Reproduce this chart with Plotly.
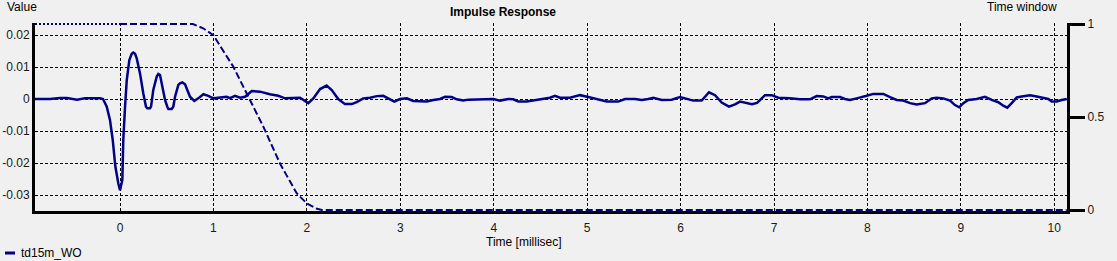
import plotly.graph_objects as go

# ---- data ----
time_ms = [-0.910, -0.749, -0.642, -0.567, -0.460, -0.375, -0.214, -0.182, -0.142, -0.107,
           -0.078, -0.050, -0.018, 0.000, 0.025, 0.035, 0.054, 0.072, 0.100, 0.125,
           0.142, 0.161, 0.179, 0.214, 0.249, 0.278, 0.292, 0.321, 0.332, 0.356,
           0.393, 0.410, 0.428, 0.446, 0.482, 0.506, 0.517, 0.553, 0.570, 0.589,
           0.624, 0.642, 0.667, 0.696, 0.714, 0.749, 0.795, 0.838, 0.892,
           0.945, 0.999, 1.070, 1.142, 1.177, 1.231, 1.284, 1.338, 1.410, 1.498,
           1.605, 1.694, 1.766, 1.855, 1.927, 2.015, 2.069, 2.141, 2.212, 2.266,
           2.336, 2.408, 2.480, 2.533, 2.604, 2.676, 2.748, 2.818, 2.890, 2.936,
           2.997, 3.069, 3.139, 3.211, 3.283, 3.353, 3.425, 3.479, 3.550, 3.604,
           3.674, 3.728, 3.853, 3.996, 4.067, 4.156, 4.210, 4.263, 4.353, 4.424,
           4.531, 4.602, 4.656, 4.709, 4.816, 4.923, 5.012, 5.102, 5.209, 5.333,
           5.405, 5.512, 5.584, 5.654, 5.708, 5.798, 5.905, 5.994, 6.047, 6.136,
           6.226, 6.261, 6.304, 6.369, 6.440, 6.518, 6.583, 6.636, 6.708, 6.764,
           6.818, 6.850, 6.904, 6.975, 7.046, 7.171, 7.278, 7.385, 7.457, 7.528,
           7.581, 7.618, 7.707, 7.760, 7.813, 7.885, 7.939, 7.992, 8.063, 8.170,
           8.242, 8.313, 8.384, 8.456, 8.527, 8.616, 8.688, 8.741, 8.812, 8.884,
           8.937, 8.983, 9.026, 9.079, 9.169, 9.223, 9.258, 9.330, 9.401, 9.454,
           9.497, 9.544, 9.598, 9.651, 9.740, 9.812, 9.882, 9.936, 9.972, 10.025,
           10.079, 10.133]
impulse_value = [0.0, 0.0, 0.0003, 0.0003, -0.0002, 0.0002, 0.0002, 0.0, -0.0024, -0.0066,
                 -0.0128, -0.0211, -0.0264, -0.0285, -0.0253, -0.0128, -0.0024, 0.0059, 0.0122, 0.0141,
                 0.0145, 0.0141, 0.0127, 0.0080, 0.0018, -0.0024, -0.0029, -0.0029, -0.0024, 0.0028,
                 0.0070, 0.0078, 0.0075, 0.0049, -0.0003, -0.0024, -0.0031, -0.0031, -0.0024, 0.0007,
                 0.0044, 0.0049, 0.0052, 0.0046, 0.0033, 0.0007, -0.0006, 0.0002, 0.0015,
                 0.0010, 0.0002, 0.0005, 0.0007, 0.0003, 0.0010, 0.0004, 0.0007, 0.0025, 0.0023,
                 0.0015, 0.0010, 0.0002, 0.0002, 0.0004, -0.0013, 0.0002, 0.0031, 0.0042, 0.0028,
                 0.0, -0.0016, -0.0016, -0.0010, 0.0002, 0.0004, 0.0009, 0.0010, 0.0, -0.0008,
                 0.0, 0.0002, -0.0006, -0.0008, -0.0008, -0.0003, 0.0, 0.0007, 0.0006, -0.0001,
                 -0.0005, -0.0002, 0.0, 0.0, -0.0005, 0.0, -0.0001, -0.0008, -0.0008, -0.0005,
                 -0.0001, 0.0004, 0.0010, 0.0004, 0.0004, 0.0012, 0.0006, 0.0, -0.0008, -0.0008,
                 0.0, 0.0, -0.0003, 0.0, 0.0004, -0.0003, -0.0002, 0.0006, 0.0002, -0.0005,
                 -0.0005, 0.0007, 0.0021, 0.0012, -0.0011, -0.0024, -0.0017, -0.0008, -0.0013, -0.0016,
                 -0.0012, -0.0003, 0.0012, 0.0012, 0.0004, 0.0002, -0.0001, -0.0001, 0.0009, 0.0008,
                 0.0002, 0.0006, 0.0006, 0.0, -0.0003, 0.0002, 0.0005, 0.0010, 0.0016, 0.0016,
                 0.0006, -0.0003, -0.0005, -0.0013, -0.0017, -0.0013, 0.0002, 0.0004, 0.0002, -0.0005,
                 -0.0019, -0.0026, -0.0013, -0.0003, 0.0, 0.0005, 0.0007, -0.0003, -0.0010, -0.0021,
                 -0.0027, -0.0013, 0.0005, 0.0008, 0.0012, 0.0008, 0.0004, 0.0, -0.0008, -0.0008,
                 -0.0003, 0.0]

window_pre_time = [-0.910, 0.0]
window_pre_value = [1.0, 1.0]
window_time = [0.0, 0.78, 0.89, 0.999, 1.213, 1.356, 1.534, 1.712, 1.891, 2.0, 2.1, 2.16, 10.133]
window_value = [1.0, 1.0, 0.977, 0.94, 0.77, 0.627, 0.448, 0.25, 0.09, 0.035, 0.008, 0.0, 0.0]

left_tickvals = [-0.03, -0.02, -0.01, 0.0, 0.01, 0.02]
left_ticktext = ["-0.03", "-0.02", "-0.01", "0", "0.01", "0.02"]
x_tickvals = [0, 1, 2, 3, 4, 5, 6, 7, 8, 9, 10]
right_tickvals = [0, 0.5, 1]
right_ticktext = ["0", "0.5", "1"]

series_name = "td15m_WO"
LINE = "#00008B"
BG = "#F0F0F0"
FONT = "Liberation Sans"

fig = go.Figure()
fig.add_trace(go.Scatter(x=window_pre_time, y=window_pre_value, yaxis="y2", mode="lines",
                         line=dict(color=LINE, width=2, dash="2px,2px"), showlegend=False,
                         hoverinfo="skip"))
fig.add_trace(go.Scatter(x=window_time, y=window_value, yaxis="y2", mode="lines",
                         line=dict(color=LINE, width=2, dash="7px,3px"), showlegend=False,
                         hoverinfo="skip"))
fig.add_trace(go.Scatter(x=time_ms, y=impulse_value, mode="lines", name=series_name,
                         line=dict(color=LINE, width=2.5), showlegend=False))

W, H = 1117, 261
L, R, T, B = 35, 50, 23, 50
pw = W - L - R

def px_to_paper_x(px):
    return (px - L) / pw

fig.update_layout(
    width=W, height=H,
    margin=dict(l=L, r=R, t=T, b=B, pad=0, autoexpand=False),
    paper_bgcolor=BG, plot_bgcolor=BG,
    font=dict(family=FONT, size=12, color="#000000"),
    showlegend=False,
    xaxis=dict(range=[-0.910, 10.136], tickvals=x_tickvals, showgrid=True, automargin=False,
               gridcolor="#000000", gridwidth=1, griddash="3px,2px",
               zeroline=False, showline=True, linecolor="#000000", linewidth=3,
               ticks="", ticklabelstandoff=4, layer="below traces",
               tickfont=dict(family=FONT, size=12, color="#1a1a1a")),
    yaxis=dict(range=[-0.035, 0.02375], tickvals=left_tickvals, ticktext=left_ticktext,
               showgrid=True, gridcolor="#000000", gridwidth=1, griddash="3px,2px", automargin=False,
               zeroline=False, showline=True, linecolor="#000000", linewidth=3,
               ticks="", ticklabelstandoff=0, layer="below traces",
               tickfont=dict(family=FONT, size=12, color="#1a1a1a")),
    yaxis2=dict(range=[-0.0054, 1.0054], overlaying="y", side="right", anchor="x",
                tickvals=right_tickvals, ticktext=right_ticktext, showgrid=False, automargin=False,
                zeroline=False, showline=True, linecolor="#000000", linewidth=3,
                ticks="outside", ticklen=15, tickwidth=3, tickcolor="#000000",
                ticklabelstandoff=0, layer="below traces",
                tickfont=dict(family=FONT, size=12, color="#1a1a1a")),
)

annotations = [
    dict(text="<b>Impulse Response</b>", x=px_to_paper_x(503), y=12, xref="paper", yref="paper",
         yanchor="middle", xanchor="center", showarrow=False, font=dict(size=12)),
    dict(text="Value", x=px_to_paper_x(5), y=7, xref="paper", yref="paper",
         xanchor="left", yanchor="middle", showarrow=False, font=dict(size=12)),
    dict(text="Time window", x=px_to_paper_x(1059), y=7, xref="paper", yref="paper",
         xanchor="right", yanchor="middle", showarrow=False, font=dict(size=12)),
    dict(text="Time [millisec]", x=px_to_paper_x(524), y=242, xref="paper", yref="paper",
         xanchor="center", yanchor="middle", showarrow=False, font=dict(size=12)),
    dict(text=series_name, x=px_to_paper_x(19), y=253, xref="paper", yref="paper",
         xanchor="left", yanchor="middle", showarrow=False, font=dict(size=12)),
]
# convert pixel y positions to paper coordinates
ph = H - T - B
for a in annotations:
    a["y"] = (H - B - a["y"]) / ph
fig.update_layout(annotations=annotations)

legend_y = (H - B - 253) / ph
fig.add_shape(type="line", xref="paper", yref="paper",
              x0=px_to_paper_x(5), x1=px_to_paper_x(15), y0=legend_y, y1=legend_y,
              line=dict(color=LINE, width=3))

fig.write_html("out.html")
